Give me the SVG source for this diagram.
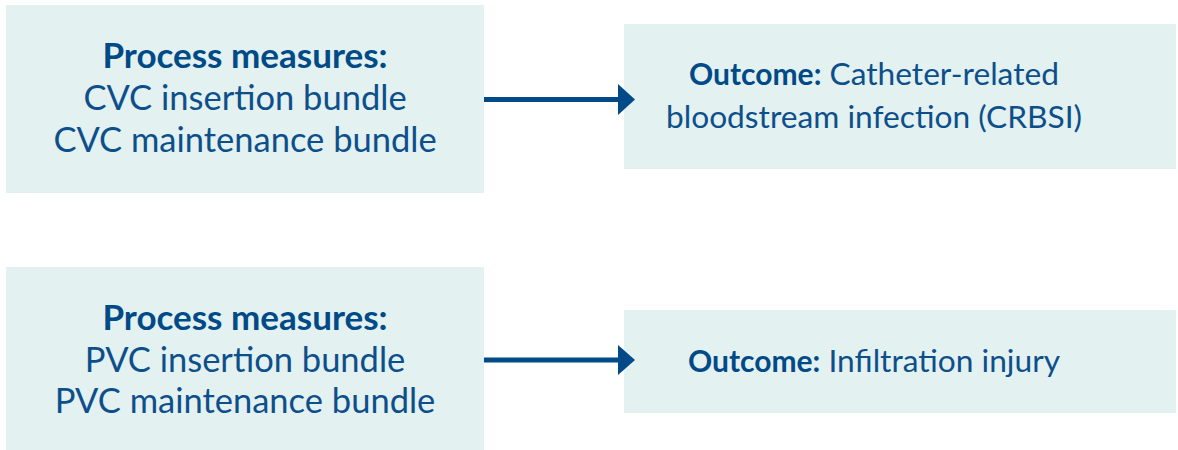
<svg xmlns="http://www.w3.org/2000/svg" width="1178" height="450" viewBox="0 0 1178 450">
<defs>
<style>
.box{fill:#e3f1f1}
.t{font-family:Lato,"Liberation Sans",sans-serif;fill:#0d4f8b;text-anchor:middle}
.l{font-size:34.5px}
.r{font-size:31.7px}
.b{font-weight:bold;fill:#004a87}
.lb{font-size:35px}
.rb{font-size:30px}
.conn{stroke:#004a87;stroke-width:5;fill:none}
.head{fill:#004a87}
</style>
</defs>
<rect width="1178" height="450" fill="#ffffff"/>
<g id="node-cvc-process">
<rect class="box" x="6" y="5" width="478" height="188"/>
<text class="t l" x="245" y="68"><tspan class="b lb">Process measures:</tspan></text>
<text class="t l" x="245" y="110">CVC insertion bundle</text>
<text class="t l" x="245" y="152">CVC maintenance bundle</text>
</g>
<g id="node-cvc-outcome">
<rect class="box" x="624" y="24" width="552" height="145"/>
<text class="t r" x="874" y="85"><tspan class="b rb">Outcome:</tspan> Catheter-related</text>
<text class="t r" x="874" y="128">bloodstream infection (CRBSI)</text>
</g>
<g id="node-pvc-process">
<rect class="box" x="6" y="267" width="478" height="183"/>
<text class="t l" x="245" y="330"><tspan class="b lb">Process measures:</tspan></text>
<text class="t l" x="245" y="372">PVC insertion bundle</text>
<text class="t l" x="245" y="413">PVC maintenance bundle</text>
</g>
<g id="node-pvc-outcome">
<rect class="box" x="624" y="310" width="552" height="103"/>
<text class="t r" x="874" y="372"><tspan class="b rb">Outcome:</tspan> Infiltration injury</text>
</g>
<g id="connectors">
<line class="conn" x1="484" y1="99.5" x2="620" y2="99.5"/>
<polygon class="head" points="618,84 635,99.5 618,115"/>
<line class="conn" x1="484" y1="360" x2="620" y2="360"/>
<polygon class="head" points="618,345 635,360 618,375"/>
</g>
</svg>
